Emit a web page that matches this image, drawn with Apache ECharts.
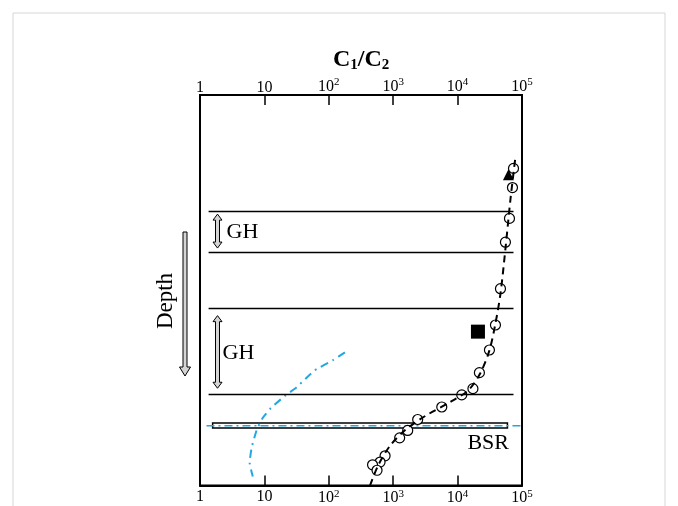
<!DOCTYPE html>
<html>
<head>
<meta charset="utf-8">
<script src="https://cdn.jsdelivr.net/npm/echarts@6/dist/echarts.min.js"></script>
<style>
	html, body { margin: 0; padding: 0; background: #fff; }
	#chart { width: 678px; height: 506px; }
</style>
</head>
<body>
<div id="chart"></div>
<script>
	// C1/C2 ratio vs depth (depth axis has no numbers, 0 = top, 100 = bottom)
	const ratioTicks = [1, 10, 100, 1000, 10000, 100000];

	// open circles
	const circleRatio = [73800, 71100, 63900, 55300, 46300, 38700, 31200, 21800, 17300, 11600, 5680, 2400, 1680, 1260, 748, 625, 478, 561];
	const circleDepth = [18.8, 23.7, 31.6, 37.7, 49.6, 58.9, 65.3, 71.1, 75.2, 76.8, 79.9, 83.1, 85.9, 87.8, 92.4, 94.0, 94.7, 96.1];

	// dashed trend through the circles
	const trendRatio = [437, 582, 895, 1535, 3150, 7700, 14700, 22600, 31200, 38700, 46300, 55300, 66200, 79200];
	const trendDepth = [100, 94.9, 89.8, 85.8, 82.2, 78.6, 75.6, 71.2, 65.4, 58.5, 50.9, 39.4, 26.7, 15.8];

	// cyan dash-dot curve
	const curveRatio = [178, 116, 60.7, 31.8, 20.7, 12.5, 9.4, 7.59, 6.34, 5.9, 6.6];
	const curveDepth = [65.9, 67.9, 70.5, 74.8, 77.1, 80.2, 82.7, 85.8, 90.3, 94.2, 97.7];

	// single markers
	const triangleRatio = [61600];
	const triangleDepth = [20.4];
	const squareRatio = [20700];
	const squareDepth = [60.6];

	// GH zone boundaries
	const zoneDepth = [29.8, 40.2, 54.5, 76.6];
	const zoneFrom = 1.36;
	const zoneTo = 73800;
	// GH arrows: ratio, top depth, bottom depth
	const ghArrowRatio = [1.87, 1.87];
	const ghArrowTop = [30.5, 56.5];
	const ghArrowBottom = [39.2, 75.1];
	const ghLabelRatio = [2.58, 2.24];
	const ghLabelDepth = [35.1, 66.2];

	// BSR
	const bsrBox = [1.57, 59400, 84.0, 85.3];
	const bsrLineRatio = [1.26, 100000];
	const bsrLineDepth = 84.7;
	const bsrLabel = [14200, 89.3];

	const serif = '"Liberation Serif", "Times New Roman", serif';
	const cyan = '#22a8e0';

	function zip(a, b) {
		return a.map((v, i) => [v, b[i]]);
	}

	function tickLabel(value) {
		const e = Math.round(Math.log10(value));
		if (e === 0) return '1';
		if (e === 1) return '10';
		return '10{s|' + e + '}';
	}

	function xAxisCfg(pos, margin) {
		return {
			type: 'log',
			logBase: 10,
			position: pos,
			min: ratioTicks[0],
			max: ratioTicks[ratioTicks.length - 1],
			axisLine: { show: true, lineStyle: { color: '#000', width: 2 } },
			axisTick: { show: true, inside: true, length: 10, lineStyle: { color: '#000', width: 1.5 } },
			minorTick: { show: false },
			splitLine: { show: false },
			axisLabel: {
				color: '#000',
				fontFamily: serif,
				fontSize: 16,
				margin: margin,
				formatter: tickLabel,
				rich: {
					s: { fontFamily: serif, fontSize: 11, color: '#000', padding: [0, 0, 8, 0] }
				}
			}
		};
	}

	// hollow double-headed arrow
	function ghArrow(params, api) {
		const a = api.coord([api.value(0), api.value(1)]);
		const b = api.coord([api.value(0), api.value(2)]);
		const x = a[0], y1 = a[1], y2 = b[1];
		const hw = 2, aw = 4.5, ah = 6;
		return {
			type: 'polygon',
			shape: {
				points: [
					[x, y1], [x + aw, y1 + ah], [x + hw, y1 + ah], [x + hw, y2 - ah], [x + aw, y2 - ah],
					[x, y2], [x - aw, y2 - ah], [x - hw, y2 - ah], [x - hw, y1 + ah], [x - aw, y1 + ah]
				]
			},
			style: { fill: '#d4d4d4', stroke: '#000', lineWidth: 1 }
		};
	}

	function bsrRect(params, api) {
		const p1 = api.coord([api.value(0), api.value(2)]);
		const p2 = api.coord([api.value(1), api.value(3)]);
		return {
			type: 'rect',
			shape: { x: p1[0], y: p1[1], width: p2[0] - p1[0], height: p2[1] - p1[1] },
			style: { fill: '#fff', stroke: '#000', lineWidth: 1.5 }
		};
	}

	const chart = echarts.init(document.getElementById('chart'));

	const option = {
		animation: false,
		backgroundColor: '#fff',
		title: {
			text: '{b|C}{s|1}{b|/C}{s|2}',
			left: 328,
			top: 42,
			textStyle: {
				rich: {
					b: { fontFamily: serif, fontSize: 24, fontWeight: 'bold', color: '#000' },
					s: { fontFamily: serif, fontSize: 15, fontWeight: 'bold', color: '#000', padding: [11, 0, 0, 0] }
				}
			}
		},
		grid: {
			left: 200,
			top: 95,
			width: 322,
			height: 393,
			show: true,
			borderColor: '#000',
			borderWidth: 2
		},
		xAxis: [xAxisCfg('top', -1), xAxisCfg('bottom', 3)],
		yAxis: {
			type: 'value',
			inverse: true,
			min: 0,
			max: 100,
			show: false
		},
		graphic: [
			// figure frame
			{
				type: 'rect',
				shape: { x: 13, y: 13, width: 652, height: 520 },
				style: { fill: 'none', stroke: '#d6d6d6', lineWidth: 1 },
				silent: true
			},
			// depth arrow
			{
				type: 'polygon',
				shape: {
					points: [[183, 232], [187, 232], [187, 367], [190.5, 367], [185, 376], [179.5, 367], [183, 367]]
				},
				style: { fill: '#d4d4d4', stroke: '#000', lineWidth: 1 }
			},
			{
				type: 'text',
				x: 166,
				y: 301,
				rotation: Math.PI / 2,
				style: {
					text: 'Depth',
					font: '23px ' + serif,
					fill: '#000',
					align: 'center',
					verticalAlign: 'middle'
				}
			}
		],
		series: [
			{
				name: 'bsrBox',
				type: 'custom',
				xAxisIndex: 1,
				renderItem: bsrRect,
				data: [bsrBox],
				z: 2
			},
			{
				name: 'bsrLine',
				type: 'line',
				xAxisIndex: 1,
				symbol: 'none',
				data: bsrLineRatio.map(r => [r, bsrLineDepth]),
				lineStyle: { color: cyan, width: 1.5, type: [8, 4, 2, 4] },
				z: 3
			},
			{
				name: 'zones',
				type: 'line',
				xAxisIndex: 1,
				symbol: 'none',
				data: [],
				markLine: {
					silent: true,
					symbol: ['none', 'none'],
					label: { show: false },
					lineStyle: { color: '#000', width: 1.3, type: 'solid' },
					data: zoneDepth.map(d => [{ coord: [zoneFrom, d] }, { coord: [zoneTo, d] }])
				}
			},
			{
				name: 'ghArrows',
				type: 'custom',
				xAxisIndex: 1,
				renderItem: ghArrow,
				data: ghArrowRatio.map((r, i) => [r, ghArrowTop[i], ghArrowBottom[i]])
			},
			{
				name: 'labels',
				type: 'scatter',
				xAxisIndex: 1,
				symbolSize: 0,
				itemStyle: { opacity: 1 },
				data: [
					{ value: [ghLabelRatio[0], ghLabelDepth[0]], name: 'GH' },
					{ value: [ghLabelRatio[1], ghLabelDepth[1]], name: 'GH' },
					{ value: bsrLabel, name: 'BSR' }
				],
				label: {
					show: true,
					position: [0, 0],
					align: 'left',
					verticalAlign: 'middle',
					formatter: p => p.name,
					fontFamily: serif,
					fontSize: 22,
					color: '#000',
					opacity: 1
				}
			},
			{
				name: 'curve',
				type: 'line',
				xAxisIndex: 1,
				symbol: 'none',
				smooth: 0.15,
				data: zip(curveRatio, curveDepth),
				lineStyle: { color: cyan, width: 2, type: [8, 5, 2, 5] }
			},
			{
				name: 'circles',
				type: 'scatter',
				xAxisIndex: 1,
				symbol: 'circle',
				symbolSize: 10,
				data: zip(circleRatio, circleDepth),
				itemStyle: { color: '#fff', borderColor: '#000', borderWidth: 1.2, opacity: 1 },
				z: 4
			},
			{
				name: 'trend',
				type: 'line',
				xAxisIndex: 1,
				symbol: 'none',
				smooth: 0.3,
				data: zip(trendRatio, trendDepth),
				lineStyle: { color: '#000', width: 2, type: [7, 5] },
				z: 5
			},
			{
				name: 'triangle',
				type: 'scatter',
				xAxisIndex: 1,
				symbol: 'triangle',
				symbolSize: 11,
				data: zip(triangleRatio, triangleDepth),
				itemStyle: { color: '#000', opacity: 1 },
				z: 6
			},
			{
				name: 'square',
				type: 'scatter',
				xAxisIndex: 1,
				symbol: 'rect',
				symbolSize: 14,
				data: zip(squareRatio, squareDepth),
				itemStyle: { color: '#000', opacity: 1 },
				z: 6
			}
		]
	};

	chart.setOption(option);
</script>
</body>
</html>
